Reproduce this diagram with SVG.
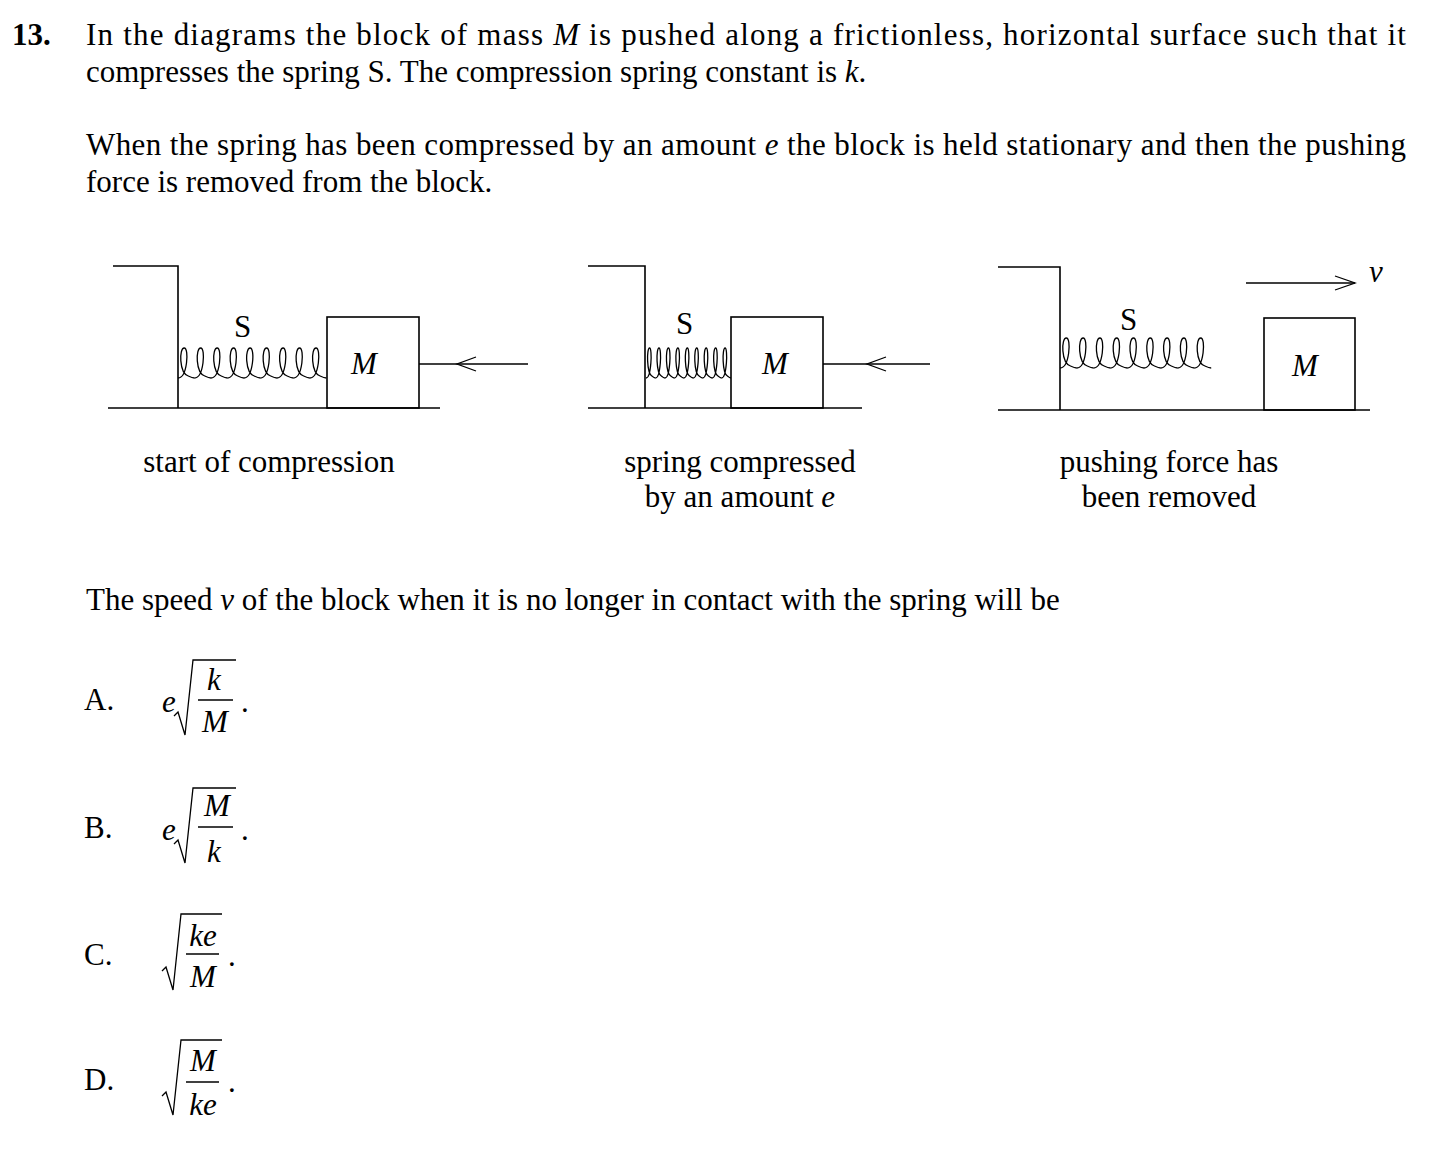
<svg xmlns="http://www.w3.org/2000/svg" width="1442" height="1170" viewBox="0 0 1442 1170">
<style>
text{font-family:"Liberation Serif","Times New Roman",serif;fill:#000}
.t{font-size:31px}
.c{font-size:31px;text-anchor:middle}
.i{font-style:italic}
.ln{stroke:#000;stroke-width:1.6;fill:none}
.th{stroke:#000;stroke-width:1.3;fill:none}
.sp{stroke:#000;stroke-width:1.3;fill:none;vector-effect:non-scaling-stroke}
</style>
<defs>
<path id="loop" class="sp" d="M0,32 C9,32 11,2 6,2 C1,2 1,27 10,30 C12,31 14,32 16,32"/>
<g id="spring">
<use href="#loop" x="0"/><use href="#loop" x="16"/><use href="#loop" x="32"/><use href="#loop" x="48"/><use href="#loop" x="64"/><use href="#loop" x="80"/><use href="#loop" x="96"/><use href="#loop" x="112"/><use href="#loop" x="128"/>
</g>
</defs>
<rect width="1442" height="1170" fill="#fff"/>
<g id="question">
<text class="t" x="12" y="45" font-weight="bold">13.</text>
<text class="t" x="86" y="45" textLength="1320" lengthAdjust="spacing">In the diagrams the block of mass <tspan class="i">M</tspan> is pushed along a frictionless, horizontal surface such that it</text>
<text class="t" x="86" y="82">compresses the spring S. The compression spring constant is <tspan class="i">k</tspan>.</text>
<text class="t" x="86" y="155" textLength="1320" lengthAdjust="spacing">When the spring has been compressed by an amount <tspan class="i">e</tspan> the block is held stationary and then the pushing</text>
<text class="t" x="86" y="192">force is removed from the block.</text>
<text class="t" x="86" y="610">The speed <tspan class="i">v</tspan> of the block when it is no longer in contact with the spring will be</text>
</g>
<g id="diagram1">
<polyline class="ln" points="113,266 178,266 178,408"/>
<line class="ln" x1="108" y1="408" x2="440" y2="408"/>
<use href="#spring" transform="translate(178,346) scale(1.03,1)"/>
<rect class="ln" x="327" y="317" width="92" height="91"/>
<text class="t i" x="351" y="374">M</text>
<text class="t" x="234" y="337">S</text>
<line class="th" x1="419" y1="364" x2="528" y2="364"/>
<polyline class="th" points="476,357 457,364 476,371"/>
<text class="c" x="269" y="472">start of compression</text>
</g>
<g id="diagram2">
<polyline class="ln" points="588,266 645,266 645,408"/>
<line class="ln" x1="588" y1="408" x2="862" y2="408"/>
<use href="#spring" transform="translate(646,346) scale(0.59,1)"/>
<rect class="ln" x="731" y="317" width="92" height="91"/>
<text class="t i" x="762" y="374">M</text>
<text class="t" x="676" y="334">S</text>
<line class="th" x1="823" y1="364" x2="930" y2="364"/>
<polyline class="th" points="886,357 867,364 886,371"/>
<text class="c" x="740" y="472">spring compressed</text>
<text class="c" x="740" y="507">by an amount <tspan class="i">e</tspan></text>
</g>
<g id="diagram3">
<polyline class="ln" points="998,267 1060,267 1060,410"/>
<line class="ln" x1="998" y1="410" x2="1370" y2="410"/>
<use href="#spring" transform="translate(1060,336) scale(1.05,1)"/>
<rect class="ln" x="1264" y="318" width="91" height="92"/>
<text class="t i" x="1292" y="376">M</text>
<text class="t" x="1120" y="330">S</text>
<line class="th" x1="1246" y1="283" x2="1355" y2="283"/>
<polyline class="th" points="1335,276 1355,283 1335,290"/>
<text class="t i" x="1369" y="282">v</text>
<text class="c" x="1169" y="472">pushing force has</text>
<text class="c" x="1169" y="507">been removed</text>
</g>
<g id="optionA">
<text class="t" x="84" y="710">A.</text>
<text class="t i" x="162" y="712">e</text>
<polyline class="th" points="174,716 178,712 185,735 193,660 236,660"/>
<text class="t i" x="214" y="690" text-anchor="middle">k</text>
<line class="th" x1="198" y1="700" x2="233" y2="700"/>
<text class="t i" x="215" y="732" text-anchor="middle">M</text>
<text class="t" x="241" y="712">.</text>
</g>
<g id="optionB">
<text class="t" x="84" y="838">B.</text>
<text class="t i" x="162" y="840">e</text>
<polyline class="th" points="174,844 178,840 185,863 193,788 236,788"/>
<text class="t i" x="217" y="816" text-anchor="middle">M</text>
<line class="th" x1="198" y1="827" x2="233" y2="827"/>
<text class="t i" x="214" y="862" text-anchor="middle">k</text>
<text class="t" x="241" y="840">.</text>
</g>
<g id="optionC">
<text class="t" x="84" y="965">C.</text>
<polyline class="th" points="162,971 166,967 173,990 181,914 222,914"/>
<text class="t i" x="203" y="946" text-anchor="middle">ke</text>
<line class="th" x1="186" y1="954" x2="219" y2="954"/>
<text class="t i" x="203" y="987" text-anchor="middle">M</text>
<text class="t" x="228" y="966">.</text>
</g>
<g id="optionD">
<text class="t" x="84" y="1090">D.</text>
<polyline class="th" points="162,1096 166,1092 173,1115 181,1040 222,1040"/>
<text class="t i" x="203" y="1071" text-anchor="middle">M</text>
<line class="th" x1="186" y1="1082" x2="219" y2="1082"/>
<text class="t i" x="203" y="1115" text-anchor="middle">ke</text>
<text class="t" x="228" y="1092">.</text>
</g>
</svg>
